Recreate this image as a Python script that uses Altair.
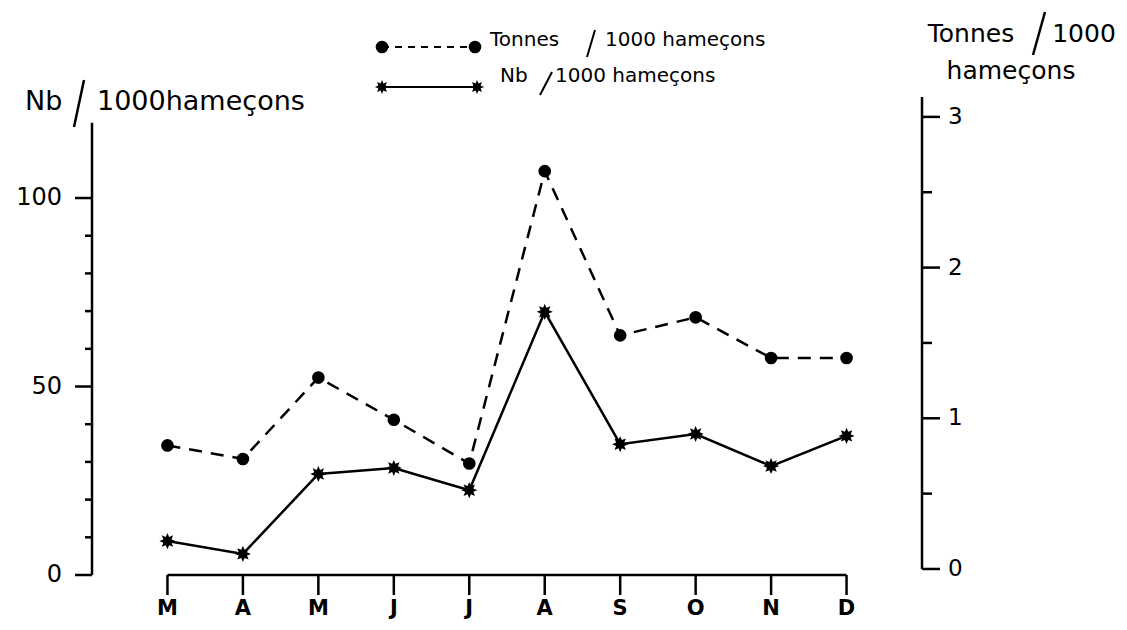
import math
import altair as alt
import pandas as pd

# ---- data ----
months = ["M", "A", "M", "J", "J", "A", "S", "O", "N", "D"]
nb_per_1000 = [9.0, 5.6, 26.8, 28.4, 22.5, 69.8, 34.7, 37.4, 28.9, 36.9]
tonnes_per_1000 = [0.82, 0.73, 1.27, 0.99, 0.70, 2.64, 1.55, 1.67, 1.40, 1.40]
left_major = [0, 50, 100]
left_minor = [10, 20, 30, 40, 60, 70, 80, 90]
right_major = [0, 1, 2, 3]
right_minor = [0.5, 1.5, 2.5]

df = pd.DataFrame({"i": list(range(len(months))), "m": months,
                   "nb": nb_per_1000, "t": tonnes_per_1000})

FONT = "DejaVu Sans"
LEFT_TOP = 120
LEFT_MAX = 126.8
RIGHT_MIN, RIGHT_MAX = -0.04, 3.132
X_LEFT, X_RIGHT = -1, 10

# 8-point star burst symbol
pts = []
for k in range(16):
    a = k * math.pi / 8 - math.pi / 2
    r = 1.0 if k % 2 == 0 else 0.55
    pts.append(f"{r*math.cos(a):.3f},{r*math.sin(a):.3f}")
STAR = "M" + " L".join(pts) + " Z"

xscale = alt.Scale(domain=[X_LEFT, X_RIGHT], nice=False, zero=False)
lscale = alt.Scale(domain=[0, LEFT_MAX], nice=False, zero=False)
rscale = alt.Scale(domain=[RIGHT_MIN, RIGHT_MAX], nice=False, zero=False)

base = alt.Chart(df)
one = alt.Data(values=[{}])
BLACK = "black"

# ---------------- left-scale layer ----------------
nb_line = base.mark_line(color=BLACK, strokeWidth=2.5).encode(
    x=alt.X("i:Q", scale=xscale, axis=None),
    y=alt.Y("nb:Q", scale=lscale, axis=None),
)
nb_pts = base.mark_point(shape=STAR, filled=True, color=BLACK, size=260, opacity=1).encode(
    x=alt.X("i:Q", axis=None), y=alt.Y("nb:Q", axis=None))
left_rule = alt.Chart(one).mark_rule(color=BLACK, strokeWidth=2.5).encode(
    x=alt.XDatum(X_LEFT, axis=None), y=alt.YDatum(0, axis=None), y2=alt.Y2Datum(LEFT_TOP))
left_major_ticks = alt.Chart(pd.DataFrame({"v": left_major})).mark_tick(
    orient="horizontal", size=17, thickness=2.5, color=BLACK, xOffset=-8.5, opacity=1).encode(
    x=alt.XDatum(X_LEFT, axis=None), y=alt.Y("v:Q", axis=None))
left_minor_ticks = alt.Chart(pd.DataFrame({"v": left_minor})).mark_tick(
    orient="horizontal", size=7, thickness=2.5, color=BLACK, xOffset=-3.5, opacity=1).encode(
    x=alt.XDatum(X_LEFT, axis=None), y=alt.Y("v:Q", axis=None))
left_labels = alt.Chart(pd.DataFrame({"v": left_major})).mark_text(
    font=FONT, fontSize=24, align="right", baseline="middle", dx=-30, color=BLACK).encode(
    x=alt.XDatum(X_LEFT, axis=None), y=alt.Y("v:Q", axis=None), text=alt.Text("v:Q", format="d"))
x_rule = alt.Chart(one).mark_rule(color=BLACK, strokeWidth=2.5).encode(
    x=alt.XDatum(0, axis=None), x2=alt.X2Datum(len(months) - 1), y=alt.YDatum(0, axis=None))
x_ticks = base.mark_tick(orient="vertical", size=20, thickness=2.5, color=BLACK,
                         yOffset=10, opacity=1).encode(
    x=alt.X("i:Q", axis=None), y=alt.YDatum(0, axis=None))
x_labels = base.mark_text(font=FONT, fontSize=21, fontWeight="bold", align="center",
                          baseline="alphabetic", dy=40, color=BLACK).encode(
    x=alt.X("i:Q", axis=None), y=alt.YDatum(0, axis=None), text="m:N")
left_layer = alt.layer(nb_line, nb_pts, left_rule, left_major_ticks, left_minor_ticks,
                       left_labels, x_rule, x_ticks, x_labels)

# ---------------- right-scale layer ----------------
t_line = base.mark_line(color=BLACK, strokeWidth=2.5, strokeDash=[13, 9]).encode(
    x=alt.X("i:Q", axis=None),
    y=alt.Y("t:Q", scale=rscale, axis=None),
)
t_pts = base.mark_point(shape="circle", filled=True, color=BLACK, size=160, opacity=1).encode(
    x=alt.X("i:Q", axis=None), y=alt.Y("t:Q", axis=None))
right_rule = alt.Chart(one).mark_rule(color=BLACK, strokeWidth=2.5).encode(
    x=alt.XDatum(X_RIGHT, axis=None), y=alt.YDatum(0, axis=None), y2=alt.Y2Datum(RIGHT_MAX))
right_major_ticks = alt.Chart(pd.DataFrame({"v": right_major})).mark_tick(
    orient="horizontal", size=18, thickness=2.5, color=BLACK, xOffset=9, opacity=1).encode(
    x=alt.XDatum(X_RIGHT, axis=None), y=alt.Y("v:Q", axis=None))
right_minor_ticks = alt.Chart(pd.DataFrame({"v": right_minor})).mark_tick(
    orient="horizontal", size=10, thickness=2.5, color=BLACK, xOffset=5, opacity=1).encode(
    x=alt.XDatum(X_RIGHT, axis=None), y=alt.Y("v:Q", axis=None))
right_labels = alt.Chart(pd.DataFrame({"v": right_major})).mark_text(
    font=FONT, fontSize=23, align="left", baseline="middle", dx=26, color=BLACK).encode(
    x=alt.XDatum(X_RIGHT, axis=None), y=alt.Y("v:Q", axis=None), text=alt.Text("v:Q", format="d"))
right_layer = alt.layer(t_line, t_pts, right_rule, right_major_ticks, right_minor_ticks, right_labels)

# ---- decorations: titles and legend (pixel positions relative to plot area) ----
OX, OY = 92, 97


def txt(s, x, y, size, align="left"):
    return alt.Chart(one).mark_text(text=s, font=FONT, fontSize=size, align=align,
                                    baseline="alphabetic", color=BLACK).encode(
        x=alt.value(x - OX), y=alt.value(y - OY))


def seg(x1, y1, x2, y2, dash=None, w=2.5):
    kw = dict(color=BLACK, strokeWidth=w)
    if dash:
        kw["strokeDash"] = dash
    return alt.Chart(one).mark_rule(**kw).encode(
        x=alt.value(x1 - OX), x2=alt.value(x2 - OX), y=alt.value(y1 - OY), y2=alt.value(y2 - OY))


def sym(shape, x, y, size):
    return alt.Chart(one).mark_point(shape=shape, filled=True, color=BLACK, size=size, opacity=1).encode(
        x=alt.value(x - OX), y=alt.value(y - OY))


deco = [
    # left axis title
    txt("Nb", 25, 110, 27), seg(84, 80, 74, 127), txt("1000hameçons", 97, 110, 27),
    # right axis title
    txt("Tonnes", 971, 42, 25, "center"), seg(1045, 12, 1033, 55), txt("1000", 1084, 42, 25, "center"),
    txt("hameçons", 1011, 79, 25, "center"),
    # legend
    seg(382, 47, 475, 47, dash=[7, 6], w=2), sym("circle", 382, 47, 160), sym("circle", 475, 47, 160),
    txt("Tonnes", 490, 46, 20), seg(595, 30, 587, 57, w=2), txt("1000 hameçons", 605, 46, 20),
    seg(382, 87, 477, 87, w=2), sym(STAR, 382, 87, 200), sym(STAR, 477, 87, 200),
    txt("Nb", 500, 82, 20), seg(552, 72, 540, 95, w=2), txt("1000 hameçons", 555, 82, 20),
]

chart = alt.layer(left_layer, right_layer, *deco).resolve_scale(y="independent").properties(
    width=830, height=478,
    padding={"left": 84, "top": 89, "right": 197, "bottom": 47},
    autosize=alt.AutoSizeParams(type="none"),
    background="white",
).configure_view(strokeWidth=0, stroke="transparent")

chart.save("out.html", embed_options={"renderer": "svg", "actions": False})
